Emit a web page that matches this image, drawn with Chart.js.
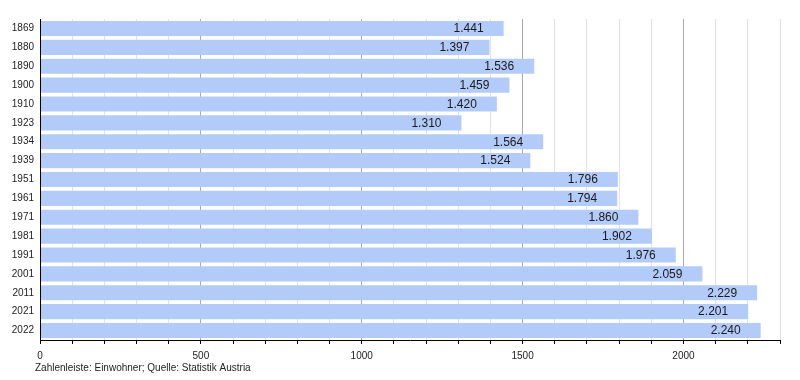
<!DOCTYPE html>
<html>
<head>
<meta charset="utf-8">
<script src="https://cdn.jsdelivr.net/npm/chart.js@4/dist/chart.umd.min.js"></script>
<style>
html,body{margin:0;padding:0;background:#fff;}
#wrap{width:800px;height:380px;position:relative;}
</style>
</head>
<body>
<div id="wrap"><canvas id="c" width="800" height="380"></canvas></div>
<script>
const categories = ["1869","1880","1890","1900","1910","1923","1934","1939","1951","1961","1971","1981","1991","2001","2011","2021","2022"];
const values = [1441,1397,1536,1459,1420,1310,1564,1524,1796,1794,1860,1902,1976,2059,2229,2201,2240];
const xMin = 0;
const xMax = 2300;
const minorStep = 100;
const majorStep = 500;
const caption = "Zahlenleiste: Einwohner; Quelle: Statistik Austria";

const FONT = "'Liberation Sans', Arial, sans-serif";

function fmt(v){
  return String(v).replace(/\B(?=(\d{3})+(?!\d))/g, ".");
}

const labelPlugin = {
  id: 'valueLabels',
  afterDraw(chart){
    const ctx = chart.ctx;
    const meta = chart.getDatasetMeta(0);
    ctx.save();
    ctx.font = "12px " + FONT;
    ctx.fillStyle = "#1a1a1a";
    ctx.textAlign = "right";
    ctx.textBaseline = "middle";
    meta.data.forEach((bar, i) => {
      ctx.fillText(fmt(values[i]), bar.x - 20, bar.y + 0.5);
    });
    ctx.font = "10px " + FONT;
    ctx.textAlign = "left";
    ctx.fillStyle = "#222";
    ctx.fillText(caption, 35, 368.5);
    ctx.restore();
  }
};

new Chart(document.getElementById('c'), {
  type: 'bar',
  data: {
    labels: categories,
    datasets: [{
      data: values,
      backgroundColor: '#b3cbf9',
      borderWidth: 0,
      barPercentage: 0.8,
      categoryPercentage: 1.0
    }]
  },
  options: {
    indexAxis: 'y',
    responsive: false,
    animation: false,
    events: [],
    layout: { padding: { top: 19, right: 20, left: 0, bottom: 0 } },
    plugins: { legend: { display: false }, tooltip: { enabled: false } },
    scales: {
      x: {
        type: 'linear',
        min: xMin,
        max: xMax,
        afterFit(scale){ scale.height = 40; },
        ticks: {
          stepSize: minorStep,
          autoSkip: false,
          maxRotation: 0,
          padding: 6,
          color: '#222',
          font: { size: 10, family: FONT }
          ,callback: (v) => (v % majorStep === 0 ? String(v) : '')
        },
        grid: {
          color: (c) => (c.tick && c.tick.value % majorStep === 0 ? '#a8a8a8' : '#e2e2e2'),
          tickColor: '#000',
          tickLength: 4,
          lineWidth: 1
        },
        border: { display: true, color: '#000', width: 1, z: 1 }
      },
      y: {
        afterFit(scale){ scale.width = 40; },
        ticks: {
          color: '#222',
          padding: 6,
          font: { size: 10, family: FONT }
        },
        grid: { display: true, drawOnChartArea: false, drawTicks: false, color: 'rgba(0,0,0,0)' },
        border: { display: true, color: '#000', width: 1, z: 1 }
      }
    }
  },
  plugins: [labelPlugin]
});
</script>
</body>
</html>
